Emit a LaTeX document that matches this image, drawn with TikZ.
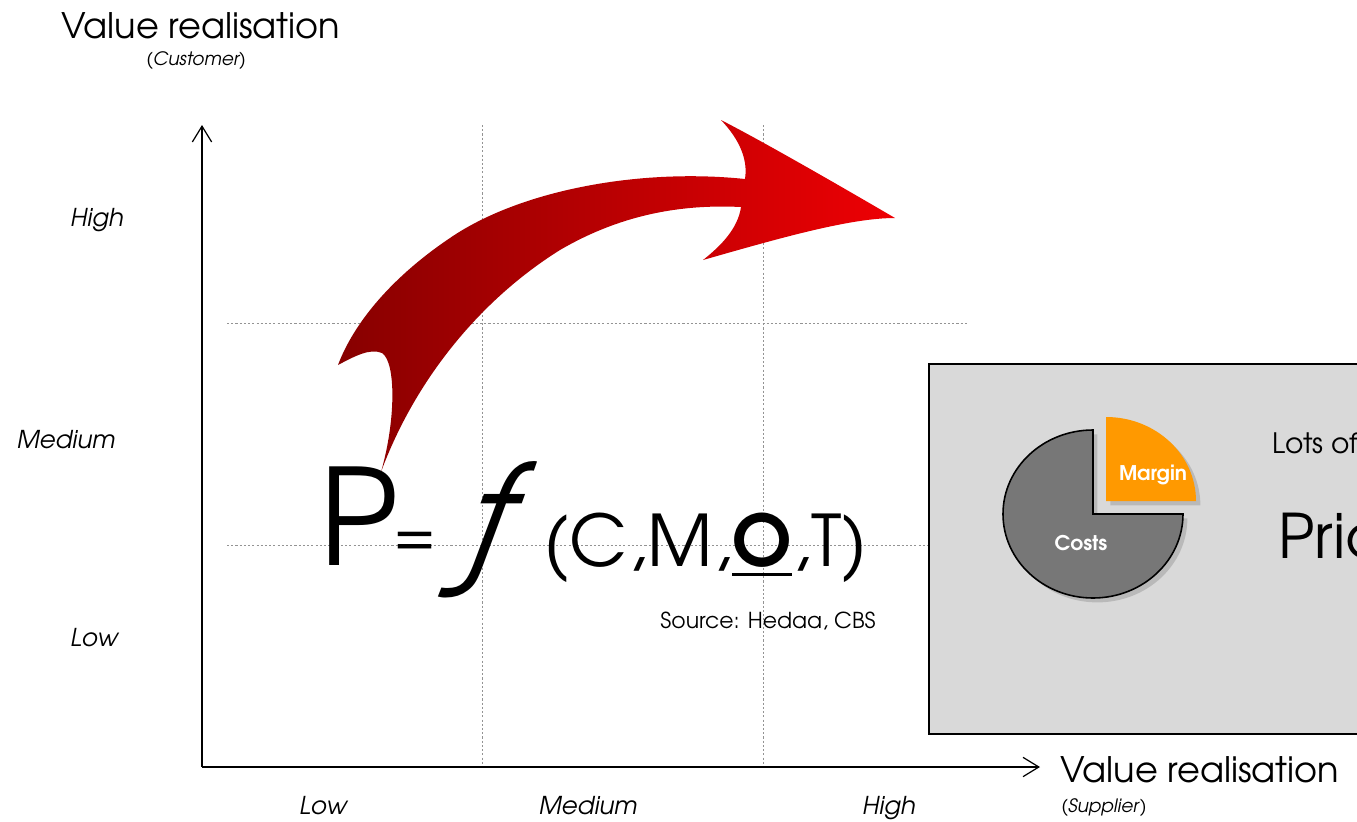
\documentclass[tikz,border=0pt]{standalone}
\usepackage{fontspec}
\setmainfont{TeX Gyre Adventor}
\usetikzlibrary{arrows.meta, shadows, positioning}
\definecolor{boxgray}{HTML}{D9D9D9}
\definecolor{costgray}{HTML}{777777}
\definecolor{margorange}{HTML}{FF9900}
\definecolor{arrowdark}{RGB}{135,0,0}
\definecolor{arrowlight}{RGB}{238,0,4}
\newcommand\thickul[1]{\setbox0\hbox{#1}\rlap{\rule[-5.7pt]{\wd0}{1.7pt}}\box0}

\begin{document}
\begin{tikzpicture}[x=0.02cm, y=-0.02cm,
  axisln/.style={draw, line width=0.7pt, -{Straight Barb[length=9pt,width=11pt]}},
  gridln/.style={draw=gray!85, line width=0.5pt, dash pattern=on 1.2pt off 1.2pt},
  lvl/.style={font=\fontsize{14}{16}\selectfont\itshape, anchor=base, inner sep=0},
  ttl/.style={font=\fontsize{20}{24}\selectfont, anchor=base west, inner sep=0},
  subttl/.style={font=\fontsize{10.5}{12}\selectfont, anchor=base west, inner sep=0},
  slice/.style={text=white, font=\fontsize{11.5}{13}\selectfont\bfseries, inner sep=0},
  pieshadow/.style={drop shadow={opacity=0.35, shadow xshift=2.5pt, shadow yshift=-2.5pt}}]
\useasboundingbox (0,0) rectangle (1357,822);
\clip (0,0) rectangle (1357,822);
\coordinate (o) at (202,767);
\coordinate (ytop) at (202,125);
\coordinate (xend) at (1040,767);
\draw[gridln] (482,125) -- (482,767); \draw[gridln] (763,125) -- (763,767);
\draw[gridln] (227,323) -- (968,323); \draw[gridln] (227,545) -- (968,545);
\draw[axisln] (o) -- (ytop); \draw[axisln] (o) -- (xend);
\node[ttl] (yt) at (61,38) {Value realisation};
\node[subttl] (ys) at (146,65) {\itshape (Customer)};
\node[ttl] (xt) at (1060,782) {Value realisation};
\node[subttl] (xs) at (1061,812) {\textit{(Supplier})};
\node[lvl] (yh) at (97,226) {High};
\node[lvl] (ym) at (66,448) {Medium};
\node[lvl] (yl) at (94,646) {Low};
\node[lvl] (xl) at (323,814) {Low};
\node[lvl] (xm) at (588,814) {Medium};
\node[lvl] (xh) at (889,814) {High};
\shade[left color=arrowdark, right color=arrowlight]
  (381,472) .. controls (415,380) and (480,300) .. (560,250)
  .. controls (620,215) and (680,204) .. (741,207)
  .. controls (738,228) and (722,245) .. (703,260)
  .. controls (780,238) and (850,218) .. (895,218)
  .. controls (830,180) and (760,140) .. (721,120)
  .. controls (740,140) and (748,160) .. (745,179)
  .. controls (640,168) and (520,190) .. (450,238)
  .. controls (395,275) and (355,320) .. (338,365)
  .. controls (355,356) and (370,348) .. (382,353)
  .. controls (396,362) and (396,420) .. (381,472) -- cycle;
\node[anchor=base west, inner sep=0, font=\fontsize{76}{80}\selectfont] (p) at (319,565) {P};
\node[inner sep=0, font=\fontsize{34}{36}\selectfont] (eq) at (415,544) {=};
\node[inner sep=0, font=\fontsize{80}{80}\selectfont\itshape] (fn) at (484,530) {ƒ};
\node[anchor=base west, inner sep=0, font=\fontsize{40.5}{44}\selectfont] (args) at (543,566) {(C,M,\thickul{\textbf{O}},T)};
\node[anchor=base east, inner sep=0, font=\fontsize{12.5}{15}\selectfont] (src) at (876,628) {Source: Hedaa, CBS};
\draw[fill=boxgray, line width=1.4pt] (929,364) rectangle (1400,734);
\begin{scope}[shift={(1093,514)}, x=0.02cm, y=0.02cm]
\draw[fill=costgray, line width=0.9pt, pieshadow] (0,0) -- (0,84) arc[start angle=90, end angle=360, x radius=90, y radius=84] -- cycle;
\fill[margorange, pieshadow] (13,13) -- (103,13) arc[start angle=0, end angle=90, x radius=90, y radius=84] -- cycle;
\end{scope}
\node[slice] (mg) at (1153,475) {Margin};
\node[slice] (cs) at (1081,543) {Costs};
\node[anchor=base west, inner sep=0, font=\fontsize{16}{18}\selectfont] (lots) at (1272,453) {Lots of};
\node[anchor=base west, inner sep=0, font=\fontsize{35}{40}\selectfont] (price) at (1278,558) {Price};
\end{tikzpicture}
\end{document}
